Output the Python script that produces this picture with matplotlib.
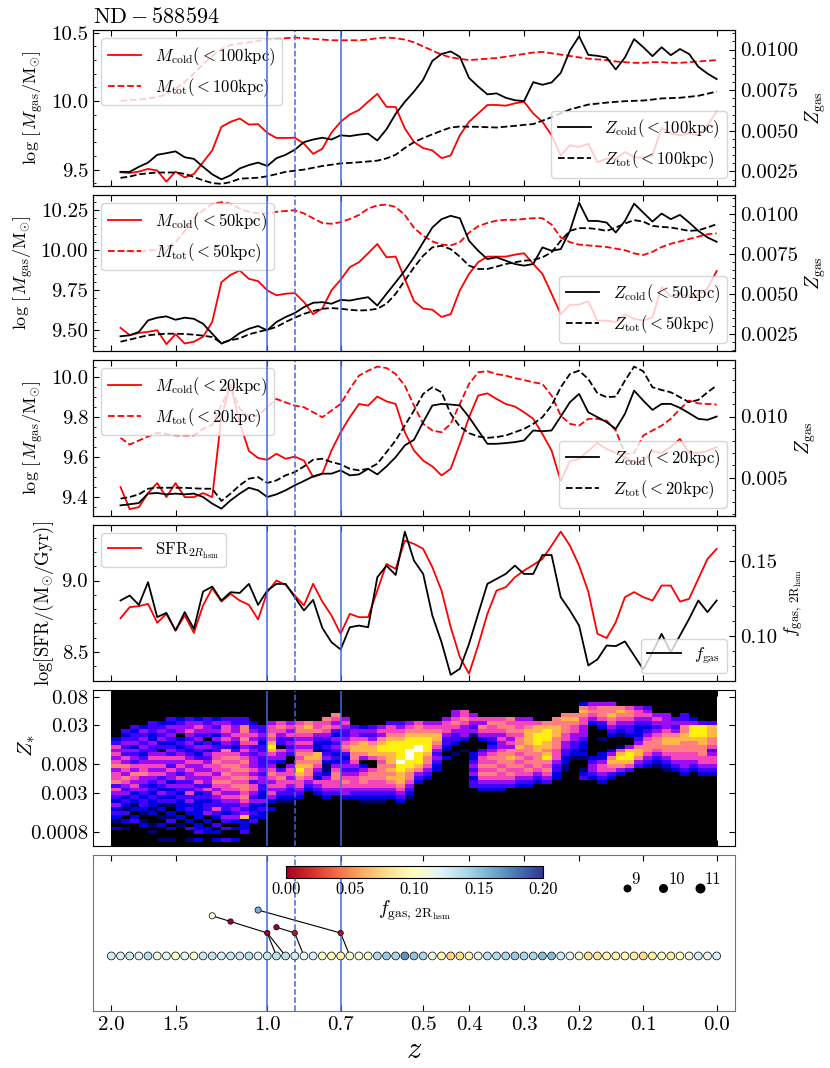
import numpy as np
import matplotlib
matplotlib.use("Agg")
import matplotlib.pyplot as plt
from matplotlib.ticker import MultipleLocator, FormatStrFormatter, NullLocator

plt.rcParams['font.family'] = 'serif'
plt.rcParams['font.serif'] = ['cmr10']
plt.rcParams['mathtext.fontset'] = 'cm'
plt.rcParams['axes.formatter.use_mathtext'] = True
plt.rcParams['axes.unicode_minus'] = False

# --- snapshots / redshift ticks ---
snaps = np.arange(34, 100)          # line series
snaps_tree = np.arange(33, 100)     # main branch of the tree
z_tick_snaps = [33, 40, 50, 58, 67, 72, 78, 84, 91, 99]
z_tick_labels = ['2.0', '1.5', '1.0', '0.7', '0.5', '0.4', '0.3', '0.2', '0.1', '0.0']
event_snaps = [50, 58]
event_snap_dashed = 53

# --- gas masses (log Msun) ---
mcold_100 = [9.480, 9.475, 9.485, 9.505, 9.493, 9.412, 9.485, 9.443, 9.468, 9.554,
             9.640, 9.812, 9.849, 9.873, 9.829, 9.832, 9.768, 9.731, 9.731, 9.733,
             9.689, 9.615, 9.652, 9.770, 9.849, 9.903, 9.935, 9.996, 10.053, 9.959,
             9.957, 9.800, 9.701, 9.657, 9.640, 9.584, 9.603, 9.751, 9.849, 9.910,
             9.972, 9.972, 9.967, 9.984, 9.996, 9.910, 9.849, 9.751, 9.603, 9.677,
             9.665, 9.689, 9.554, 9.579, 9.579, 9.628, 9.591, 9.586, 9.603, 9.805,
             9.763, 9.751, 9.763, 9.751, 9.824, 9.923]
mtot_100 = [10.00, 10.01, 10.01, 10.02, 10.03, 10.05, 10.09, 10.14, 10.20, 10.27,
            10.33, 10.38, 10.41, 10.42, 10.43, 10.44, 10.45, 10.455, 10.46, 10.465,
            10.46, 10.455, 10.45, 10.445, 10.445, 10.445, 10.445, 10.45, 10.46, 10.465,
            10.46, 10.45, 10.43, 10.40, 10.37, 10.34, 10.32, 10.31, 10.30, 10.305,
            10.31, 10.315, 10.325, 10.335, 10.345, 10.355, 10.36, 10.35, 10.34, 10.33,
            10.32, 10.31, 10.305, 10.30, 10.29, 10.285, 10.28, 10.28, 10.285, 10.285,
            10.28, 10.28, 10.285, 10.29, 10.295, 10.30]
mcold_50 = [9.515, 9.469, 9.483, 9.490, 9.500, 9.413, 9.475, 9.417, 9.428, 9.459,
            9.552, 9.800, 9.846, 9.873, 9.821, 9.807, 9.749, 9.718, 9.728, 9.732,
            9.676, 9.600, 9.635, 9.749, 9.815, 9.894, 9.925, 9.981, 10.039, 9.956,
            9.960, 9.821, 9.682, 9.635, 9.628, 9.583, 9.600, 9.749, 9.852, 9.925,
            9.960, 9.960, 9.960, 9.972, 9.981, 9.914, 9.852, 9.728, 9.60, 9.66,
            9.66, 9.68, 9.56, 9.56, 9.55, 9.60, 9.57, 9.56, 9.58, 9.77,
            9.71, 9.73, 9.71, 9.72, 9.76, 9.87]
mtot_50 = [10.00, 9.99, 9.99, 10.00, 10.00, 10.02, 10.05, 10.12, 10.20, 10.25,
           10.29, 10.30, 10.29, 10.26, 10.24, 10.23, 10.23, 10.24, 10.245, 10.25,
           10.23, 10.20, 10.17, 10.165, 10.175, 10.195, 10.22, 10.26, 10.28, 10.285,
           10.27, 10.22, 10.14, 10.09, 10.055, 10.035, 10.03, 10.05, 10.11, 10.15,
           10.17, 10.185, 10.19, 10.19, 10.195, 10.20, 10.20, 10.16, 10.08, 10.05,
           10.035, 10.03, 10.025, 10.02, 10.01, 10.00, 9.98, 9.97, 9.99, 10.02,
           10.04, 10.055, 10.07, 10.085, 10.10, 10.105]
mcold_20 = [9.45, 9.34, 9.35, 9.42, 9.47, 9.40, 9.47, 9.40, 9.40, 9.42,
            9.40, 9.80, 9.96, 9.77, 9.63, 9.595, 9.586, 9.616, 9.591, 9.602,
            9.582, 9.500, 9.516, 9.632, 9.723, 9.798, 9.864, 9.856, 9.901, 9.877,
            9.864, 9.723, 9.632, 9.582, 9.553, 9.508, 9.541, 9.665, 9.798, 9.906,
            9.917, 9.889, 9.864, 9.851, 9.823, 9.790, 9.715, 9.632, 9.480, 9.58,
            9.59, 9.63, 9.67, 9.64, 9.62, 9.60, 9.57, 9.58, 9.63, 9.62,
            9.65, 9.69, 9.62, 9.62, 9.63, 9.65]
mtot_20 = [9.695, 9.662, 9.682, 9.702, 9.72, 9.715, 9.707, 9.707, 9.707, 9.74,
           9.76, 9.86, 9.95, 9.84, 9.80, 9.806, 9.848, 9.889, 9.872, 9.856,
           9.848, 9.823, 9.798, 9.831, 9.864, 9.939, 10.005, 10.03, 10.05, 10.043,
           10.013, 9.955, 9.856, 9.765, 9.732, 9.723, 9.765, 9.864, 9.964, 10.022,
           10.027, 10.013, 10.005, 9.993, 9.983, 9.972, 9.964, 9.906, 9.806, 9.765,
           9.756, 9.790, 9.790, 9.781, 9.732, 9.616, 9.619, 9.707, 9.732, 9.756,
           9.790, 9.839, 9.881, 9.867, 9.864, 9.861]

# --- gas metallicities ---
zcold_100 = [0.00247, 0.00247, 0.00278, 0.00304, 0.00352, 0.00362, 0.00373, 0.00337, 0.00327, 0.00278,
             0.00232, 0.00201, 0.00226, 0.00268, 0.00289, 0.00304, 0.00283, 0.00331, 0.00352, 0.00383,
             0.00430, 0.00446, 0.00457, 0.00446, 0.00472, 0.00467, 0.00476, 0.00482, 0.00440, 0.00509,
             0.00604, 0.00678, 0.00741, 0.00814, 0.00930, 0.00972, 0.00988, 0.00955, 0.00825, 0.00772,
             0.00724, 0.00730, 0.00703, 0.00688, 0.00682, 0.00799, 0.00783, 0.00797, 0.00856, 0.00993,
             0.01081, 0.00967, 0.00961, 0.00951, 0.00877, 0.00951, 0.01064, 0.01014, 0.00959, 0.01014,
             0.00965, 0.01003, 0.00972, 0.00894, 0.00852, 0.00818]
ztot_100 = [0.00210, 0.00218, 0.00232, 0.00238, 0.00243, 0.00243, 0.00243, 0.00235, 0.00215, 0.00195,
            0.00178, 0.00173, 0.00184, 0.00205, 0.00208, 0.00211, 0.00220, 0.00233, 0.00247, 0.00254,
            0.00261, 0.00272, 0.00283, 0.00291, 0.00299, 0.00302, 0.00306, 0.00311, 0.00316, 0.00330,
            0.00352, 0.00394, 0.00430, 0.00455, 0.00478, 0.00500, 0.00520, 0.00526, 0.00525, 0.00524,
            0.00522, 0.00520, 0.00525, 0.00530, 0.00536, 0.00541, 0.00562, 0.00583, 0.00607, 0.00631,
            0.00646, 0.00661, 0.00667, 0.00673, 0.00678, 0.00682, 0.00684, 0.00686, 0.00692, 0.00699,
            0.00701, 0.00703, 0.00709, 0.00715, 0.00728, 0.00741]
zcold_50 = [0.00234, 0.00240, 0.00261, 0.00333, 0.00350, 0.00358, 0.00337, 0.00350, 0.00343, 0.00312,
            0.00250, 0.00188, 0.00213, 0.00254, 0.00281, 0.00298, 0.00271, 0.00323, 0.00354, 0.00379,
            0.00416, 0.00443, 0.00447, 0.00437, 0.00461, 0.00457, 0.00468, 0.00478, 0.00426, 0.00499,
            0.00571, 0.00644, 0.00727, 0.00820, 0.00913, 0.00965, 0.00986, 0.00971, 0.00830, 0.00768,
            0.00716, 0.00727, 0.00706, 0.00685, 0.00675, 0.00685, 0.00789, 0.00768, 0.00778, 0.00892,
            0.01068, 0.00954, 0.00954, 0.00944, 0.00882, 0.00954, 0.01062, 0.01006, 0.00950, 0.01000,
            0.00965, 0.00992, 0.00944, 0.00892, 0.00851, 0.00824]
ztot_50 = [0.00200, 0.00213, 0.00227, 0.00240, 0.00246, 0.00250, 0.00250, 0.00248, 0.00244, 0.00238,
           0.00229, 0.00192, 0.00209, 0.00221, 0.00246, 0.00261, 0.00275, 0.00292, 0.00323, 0.00350,
           0.00374, 0.00391, 0.00406, 0.00410, 0.00406, 0.00399, 0.00395, 0.00397, 0.00406, 0.00437,
           0.00499, 0.00582, 0.00664, 0.00737, 0.00789, 0.00799, 0.00778, 0.00731, 0.00675, 0.00654,
           0.00654, 0.00669, 0.00685, 0.00696, 0.00706, 0.00710, 0.00727, 0.00758, 0.00830, 0.00892,
           0.00909, 0.00909, 0.00903, 0.00892, 0.00913, 0.00938, 0.00959, 0.00950, 0.00923, 0.00917,
           0.00913, 0.00903, 0.00892, 0.00896, 0.00913, 0.00934]
zcold_20 = [0.00274, 0.00283, 0.00293, 0.00370, 0.00375, 0.00364, 0.00370, 0.00364, 0.00370, 0.00342,
            0.00288, 0.00247, 0.00315, 0.00370, 0.00418, 0.00397, 0.00342, 0.00364, 0.00397, 0.00438,
            0.00473, 0.00511, 0.00533, 0.00533, 0.00560, 0.00519, 0.00527, 0.00573, 0.00527, 0.00592,
            0.00668, 0.00764, 0.00810, 0.00954, 0.01090, 0.01103, 0.01098, 0.01090, 0.00995, 0.00886,
            0.00777, 0.00777, 0.00783, 0.00791, 0.00804, 0.00886, 0.00880, 0.00886, 0.01000, 0.01117,
            0.01185, 0.01035, 0.00995, 0.00954, 0.00899, 0.01022, 0.01212, 0.01130, 0.01054, 0.01103,
            0.01103, 0.01071, 0.01027, 0.00981, 0.00973, 0.01000]
ztot_20 = [0.00329, 0.00342, 0.00364, 0.00410, 0.00418, 0.00418, 0.00418, 0.00418, 0.00413, 0.00410,
           0.00410, 0.00310, 0.00370, 0.00438, 0.00492, 0.00505, 0.00457, 0.00478, 0.00519, 0.00546,
           0.00592, 0.00647, 0.00655, 0.00628, 0.00609, 0.00573, 0.00560, 0.00573, 0.00614, 0.00709,
           0.00804, 0.00927, 0.01049, 0.01185, 0.01239, 0.01198, 0.01022, 0.00918, 0.00864, 0.00837,
           0.00826, 0.00832, 0.00845, 0.00872, 0.00899, 0.00940, 0.00995, 0.01090, 0.01239, 0.01348,
           0.01375, 0.01307, 0.01190, 0.01158, 0.01163, 0.01293, 0.01408, 0.01370, 0.01239, 0.01217,
           0.01198, 0.01158, 0.01117, 0.01136, 0.01198, 0.01253]

# --- star formation and gas fraction within 2 R_hsm ---
log_sfr = [8.737, 8.814, 8.821, 8.837, 8.705, 8.767, 8.651, 8.756, 8.635, 8.826,
           8.947, 8.853, 8.907, 8.860, 8.830, 8.728, 8.919, 9.000, 8.970, 8.895,
           8.826, 8.977, 8.853, 8.756, 8.628, 8.767, 8.744, 8.744, 8.930, 9.116,
           9.081, 9.279, 9.256, 9.221, 9.093, 8.930, 8.674, 8.465, 8.349, 8.547,
           8.767, 8.930, 8.953, 9.023, 9.070, 9.109, 9.151, 9.244, 9.342, 9.244,
           9.105, 8.923, 8.628, 8.598, 8.709, 8.884, 8.919, 8.884, 8.860, 8.965,
           8.965, 8.853, 8.872, 9.012, 9.151, 9.221]
fgas = [0.1236, 0.1269, 0.1207, 0.1357, 0.1126, 0.1154, 0.1037, 0.1159, 0.1048, 0.1295,
        0.1328, 0.1236, 0.1291, 0.1286, 0.1346, 0.1207, 0.1302, 0.1346, 0.1346, 0.1258,
        0.1170, 0.1240, 0.1055, 0.0960, 0.0912, 0.1059, 0.1070, 0.1059, 0.1390, 0.1467,
        0.1405, 0.1692, 0.1500, 0.1412, 0.1137, 0.0960, 0.0744, 0.0784, 0.0949, 0.1148,
        0.1346, 0.1379, 0.1412, 0.1467, 0.1412, 0.1412, 0.1537, 0.1537, 0.1258, 0.1170,
        0.1070, 0.0806, 0.0846, 0.0938, 0.0934, 0.0965, 0.0872, 0.0780, 0.0894, 0.1015,
        0.0894, 0.1004, 0.1115, 0.1236, 0.1159, 0.1236]
fgas_snap33 = 0.125

# --- stellar metallicity distribution: one string per snapshot column (33->99),
#     40 log-bins from Z=0.1 (first char) down to Z=5e-4 (last char), level 0-9 ---
zstar_log_range = (np.log10(5e-4), -1.0)
zstar_columns = [
    "0000000000" "0023545456" "4556354324" "2321020000",
    "0000000000" "3234343546" "5465434232" "1302010000",
    "0000000003" "2334243435" "4654542321" "2023000000",
    "0000000002" "4343432345" "5644343233" "2101200000",
    "0000000033" "3224334545" "4543232322" "1200101000",
    "0000000023" "4342304545" "4534324231" "2010200010",
    "0000000324" "3432343543" "5442423231" "0213020010",
    "0000000234" "4023234545" "4353432322" "2020100000",
    "0000000344" "5434323454" "5443435342" "3202030010",
    "0000000245" "4342432354" "4545342322" "2220223020",
    "0000000334" "4303424345" "4544353323" "3402022000",
    "0000000243" "4242335565" "5456545433" "5320302020",
    "0000000345" "5454365656" "5656554543" "3243030030",
    "0000000334" "4543235656" "6565654543" "4342020020",
    "0000000336" "6565454565" "6565665654" "3472223000",
    "0000000023" "4545343444" "5453554342" "2323000000",
    "0000000003" "3432334333" "4344332242" "3220000000",
    "0000000045" "5657875434" "5654545420" "2000000000",
    "0000000056" "5433054420" "3565543210" "0000000000",
    "0000000045" "4534343004" "5545433210" "0000000000",
    "0000000056" "6545456567" "8765543200" "0000000000",
    "0000000067" "6545456767" "6654320000" "0000000000",
    "0000000055" "6432217765" "4325432000" "0000000000",
    "0000000656" "5432323421" "1245543200" "0000000000",
    "0000006545" "3243432324" "5665543000" "0000000000",
    "0000000454" "3345653234" "3456544200" "0000000000",
    "0000000003" "4456776654" "3455543200" "0000000000",
    "0000000002" "4357776402" "4566543210" "0000000000",
    "0000000003" "4346777500" "5665543210" "0000000000",
    "0000000004" "5467887656" "6665543210" "0000000000",
    "0000000035" "5678887776" "7676543200" "0000000000",
    "0000000034" "5678888898" "8777654320" "0000000000",
    "0000000045" "6788899988" "7665432100" "0000000000",
    "0000000056" "6788998887" "6432000000" "0000000000",
    "0000000045" "6788887665" "4320000000" "0000000000",
    "0000000045" "6776543432" "2000000000" "0000000000",
    "0000000455" "5433210200" "0000000000" "0000000000",
    "0000044565" "4332001000" "0000000000" "0000000000",
    "0000055654" "4420010000" "0000000000" "0000000000",
    "0000004543" "4100002234" "3423300000" "0000000000",
    "0000000546" "5420034556" "5654320000" "0000000000",
    "0000000565" "5432345656" "5654320000" "0000000000",
    "0000000566" "5454456665" "6554320000" "0000000000",
    "0000000656" "6545466766" "5654300000" "0000000000",
    "0000000455" "6566765656" "5543200000" "0000000000",
    "0000000456" "7777666565" "6543200000" "0000000000",
    "0000000057" "7888776666" "5432000000" "0000000000",
    "0000000067" "8887767865" "6543000000" "0000000000",
    "0000000667" "7766655543" "3220000000" "0000000000",
    "0000006766" "6554433221" "1000000000" "0000000000",
    "0000006765" "5443322100" "0000000000" "0000000000",
    "0002676554" "4432212100" "1230000000" "0000000000",
    "0004565420" "0000000234" "4320000000" "0000000000",
    "0004666532" "0010002245" "5432000000" "0000000000",
    "0004667654" "3200024676" "5320000000" "0000000000",
    "0000676543" "2100157876" "4200000000" "0000000000",
    "0000566543" "3200478875" "3000000000" "0000000000",
    "0000455432" "2234677643" "0000000000" "0000000000",
    "0000345432" "3456665432" "0000000000" "0000000000",
    "0000004543" "4566654321" "0000000000" "0000000000",
    "0000004444" "5677665432" "1000000000" "0000000000",
    "0000000343" "4677665543" "2000000000" "0000000000",
    "0000003346" "6776665544" "3200000000" "0000000000",
    "0000000248" "8876665543" "2000000000" "0000000000",
    "0000000038" "8877666554" "3200000000" "0000000000",
    "0000000037" "7766534554" "3200000000" "0000000000",
]

# --- merger tree side branches ---
sat_snaps = [44, 46, 50, 49, 58, 51, 53]
sat_level = [1.75, 1.5, 1.0, 2.0, 1.0, 1.25, 1.0]
sat_fgas = [0.105, 0.0, 0.0, 0.16, 0.005, 0.0, 0.01]
branch_snaps = [[44, 46, 50, 51], [50, 52], [49, 58, 59], [51, 53, 54]]
branch_level = [[1.75, 1.5, 1.0, 0.0], [1.0, 0.0], [2.0, 1.0, 0.0], [1.25, 1.0, 0.0]]
mass_legend = [9, 10, 11]

fgas_tree = np.r_[fgas_snap33, fgas]

# ----------------------------------------------------------------------
W_PX, H_PX = 830, 1068
fig = plt.figure(figsize=(W_PX / 100, H_PX / 100), dpi=100)
left, width = 93 / W_PX, 642 / W_PX
ph = 156 / H_PX
tops = [30, 195, 360, 525, 690, 855]
axes = [fig.add_axes([left, 1 - (t + 156) / H_PX, width, ph]) for t in tops]

TICK_FS = 15
LEG_FS = 12


def style_x(ax, labels=False):
    ax.set_xlim(31, 101)
    ax.set_xticks(z_tick_snaps)
    ax.set_xticklabels(z_tick_labels if labels else [])
    ax.xaxis.set_minor_locator(NullLocator())
    ax.tick_params(axis='x', which='both', direction='in', top=True, bottom=True,
                   labelsize=TICK_FS, length=4.5, width=0.8)


def style_y(ax, ticks, minor, fmt, lim, side='left'):
    ax.set_ylim(lim)
    ax.set_yticks(ticks)
    ax.yaxis.set_minor_locator(MultipleLocator(minor))
    ax.yaxis.set_major_formatter(FormatStrFormatter(fmt))
    if side == 'left':
        ax.tick_params(axis='y', which='both', direction='in', left=True, right=False,
                       labelsize=TICK_FS)
    else:
        ax.tick_params(axis='y', which='both', direction='in', left=False, right=True,
                       labelsize=TICK_FS)
    ax.tick_params(axis='y', which='major', length=4.5, width=0.8)
    ax.tick_params(axis='y', which='minor', length=2.5, width=0.6)


def add_events(ax):
    for s in event_snaps:
        ax.axvline(s, color='royalblue', lw=1.1)
    ax.axvline(event_snap_dashed, color='royalblue', lw=1.1, ls='--')


def gas_panel(ax, r, mcold, mtot, zcold, ztot, ylim, yticks, yminor, yfmt,
              zlim, zticks, zminor, zfmt):
    ax.plot(snaps, mcold, color='red', lw=1.3, label=r'$M_{\rm cold}(<%d{\rm kpc})$' % r)
    ax.plot(snaps, mtot, color='red', lw=1.3, ls='--', label=r'$M_{\rm tot}(<%d{\rm kpc})$' % r)
    style_x(ax)
    style_y(ax, yticks, yminor, yfmt, ylim)
    ax.set_ylabel(r'$\log\,[\,M_{\rm gas}/{\rm M}_{\odot}]$', fontsize=13)
    ax.legend(loc='upper left', fontsize=LEG_FS)
    axr = ax.twinx()
    axr.plot(snaps, zcold, color='k', lw=1.3, label=r'$Z_{\rm cold}(<%d{\rm kpc})$' % r)
    axr.plot(snaps, ztot, color='k', lw=1.3, ls='--', label=r'$Z_{\rm tot}(<%d{\rm kpc})$' % r)
    style_y(axr, zticks, zminor, zfmt, zlim, side='right')
    axr.set_ylabel(r'$Z_{\rm gas}$', fontsize=14)
    add_events(axr)
    axr.legend(loc='lower right', fontsize=LEG_FS)
    return axr


gas_panel(axes[0], 100, mcold_100, mtot_100, zcold_100, ztot_100,
          (9.38, 10.52), [9.5, 10.0, 10.5], 0.1, '%.1f',
          (0.0016, 0.0112), [0.0025, 0.005, 0.0075, 0.01], 0.0005, '%.4f')
gas_panel(axes[1], 50, mcold_50, mtot_50, zcold_50, ztot_50,
          (9.37, 10.345), [9.5, 9.75, 10.0, 10.25], 0.05, '%.2f',
          (0.00142, 0.01116), [0.0025, 0.005, 0.0075, 0.01], 0.0005, '%.4f')
gas_panel(axes[2], 20, mcold_20, mtot_20, zcold_20, ztot_20,
          (9.306, 10.083), [9.4, 9.6, 9.8, 10.0], 0.05, '%.1f',
          (0.00187, 0.01462), [0.005, 0.010], 0.001, '%.3f')

axes[0].set_title(r'$\mathrm{ND-588594}$', loc='left', fontsize=16, pad=5)

# --- SFR / gas fraction ---
ax4 = axes[3]
ax4.plot(snaps, log_sfr, color='red', lw=1.3, label=r'${\rm SFR}_{2R_{\rm hsm}}$')
style_x(ax4)
style_y(ax4, [8.5, 9.0], 0.1, '%.1f', (8.298, 9.388))
ax4.set_ylabel(r'$\log[{\rm SFR}/({\rm M}_{\odot}/{\rm Gyr})]$', fontsize=13.5)
ax4.legend(loc='upper left', fontsize=LEG_FS)
ax4r = ax4.twinx()
ax4r.plot(snaps, fgas, color='k', lw=1.3, label=r'$f_{\rm gas}$')
style_y(ax4r, [0.10, 0.15], 0.01, '%.2f', (0.0703, 0.1736), side='right')
ax4r.set_ylabel(r'$f_{\rm gas,\,2R_{\rm hsm}}$', fontsize=13)
add_events(ax4r)
ax4r.legend(loc='lower right', fontsize=LEG_FS)

# --- stellar metallicity histogram ---
ax5 = axes[4]
grid = np.array([[int(ch) for ch in col.ljust(40, '0')[:40]] for col in zstar_columns])
zedges = np.logspace(zstar_log_range[0], zstar_log_range[1], grid.shape[1] + 1)
xedges = np.arange(33, 33 + grid.shape[0] + 1)
ax5.pcolormesh(xedges, zedges, grid[:, ::-1].T, cmap='gnuplot2', vmin=0, vmax=9,
               shading='flat')
ax5.set_yscale('log')
ax5.set_ylim(10 ** zstar_log_range[0], 10 ** zstar_log_range[1])
ax5.set_yticks([0.0008, 0.003, 0.008, 0.03, 0.08])
ax5.set_yticklabels(['0.0008', '0.003', '0.008', '0.03', '0.08'])
ax5.yaxis.set_minor_locator(NullLocator())
ax5.tick_params(axis='y', which='both', direction='in', left=True, right=True,
                labelsize=TICK_FS, length=4.5, width=0.8)
style_x(ax5)
ax5.set_ylabel(r'$Z_{*}$', fontsize=15)
ax5.yaxis.set_label_coords(-0.088, 0.64)
add_events(ax5)

# --- merger tree ---
ax6 = axes[5]
ax6.set_ylim(-2.4, 4.4)
for bs, bl in zip(branch_snaps, branch_level):
    ax6.plot(bs, bl, color='k', lw=0.8, zorder=1)
sc = ax6.scatter(snaps_tree, np.zeros(len(snaps_tree)), c=fgas_tree, cmap='RdYlBu',
                 vmin=0, vmax=0.2, s=32, edgecolors='k', linewidths=0.5, zorder=3)
sat_sizes = [20, 15, 15, 20, 15, 15, 15]
ax6.scatter(sat_snaps, sat_level, c=sat_fgas, cmap='RdYlBu', vmin=0, vmax=0.2,
            s=sat_sizes, edgecolors='k', linewidths=0.5, zorder=3)
for xs, m, s in zip([89.2, 93.2, 97.2], mass_legend, [22, 30, 38]):
    ax6.scatter(xs, 2.94, s=s, color='k', zorder=3)
    ax6.annotate(str(m), (xs, 2.94), xytext=(3.5, 3), textcoords='offset points',
                 fontsize=12)
style_x(ax6, labels=True)
ax6.set_yticks([])
ax6.set_xlabel(r'$z$', fontsize=22, labelpad=2)
for sp in ax6.spines.values():
    sp.set_color('0.45')
add_events(ax6)

cax = fig.add_axes([286 / W_PX, 1 - 878 / H_PX, 257 / W_PX, 12 / H_PX])
cb = fig.colorbar(sc, cax=cax, orientation='horizontal', ticks=[0, 0.05, 0.10, 0.15, 0.20])
cb.ax.xaxis.set_major_formatter(FormatStrFormatter('%.2f'))
cb.ax.tick_params(labelsize=12, length=0, pad=3)
cb.set_label(r'$f_{\rm gas,\,2R_{\rm hsm}}$', fontsize=14, labelpad=1)
cb.outline.set_linewidth(0.8)

fig.savefig('out.png', dpi=100)
